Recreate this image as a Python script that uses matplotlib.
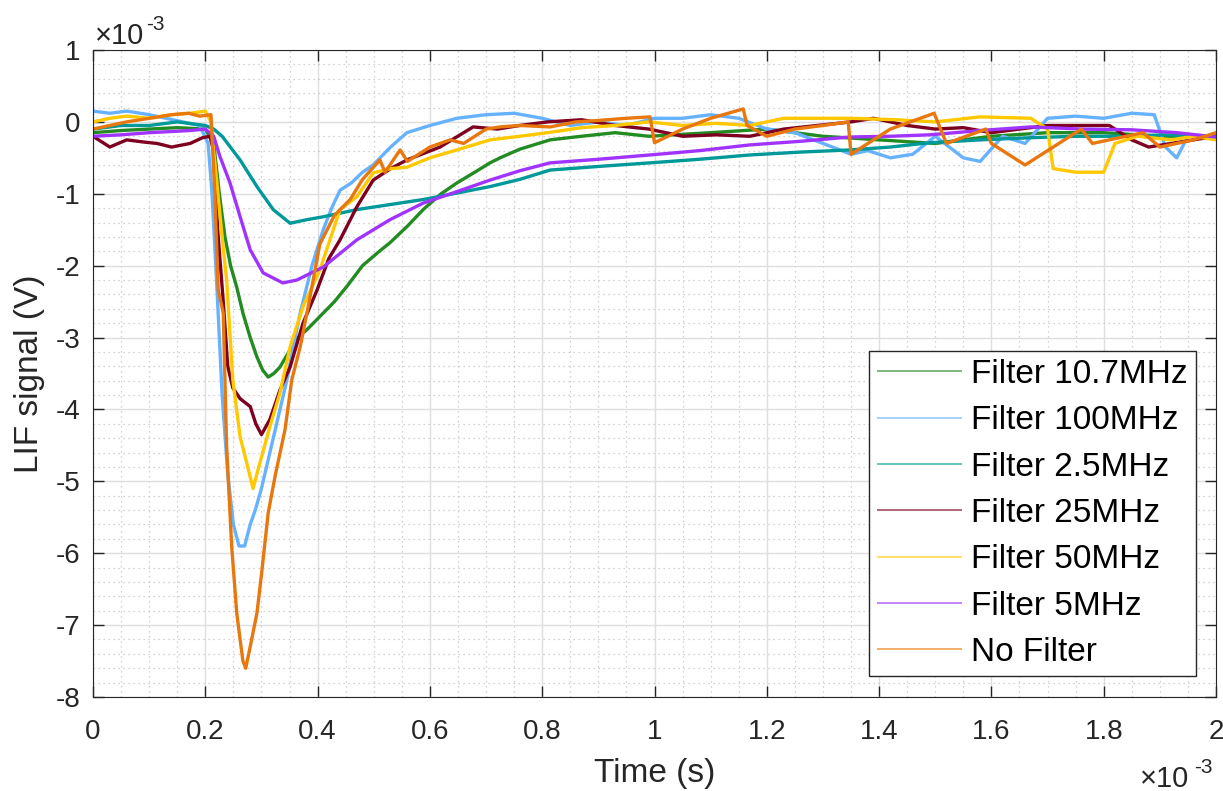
import matplotlib
matplotlib.use("Agg")
import matplotlib.pyplot as plt
from matplotlib.lines import Line2D
from matplotlib.ticker import MultipleLocator, FuncFormatter
import numpy as np

plt.rcParams["font.family"] = ["Liberation Sans", "DejaVu Sans"]

# traces: time in ms, signal in mV
t_107 = [0, 0.05, 0.1, 0.15, 0.2, 0.215, 0.225, 0.235, 0.245, 0.256, 0.267, 0.28, 0.292, 0.302,
         0.312, 0.322, 0.333, 0.351, 0.365, 0.381, 0.41, 0.43, 0.452, 0.48, 0.51, 0.529, 0.56,
         0.588, 0.62, 0.648, 0.68, 0.707, 0.725, 0.76, 0.814, 0.87, 0.93, 0.99, 1.1, 1.2, 1.3,
         1.4, 1.5, 1.6, 1.7, 1.8, 1.9, 2.0]
v_107 = [-0.15, -0.12, -0.1, -0.08, -0.1, -0.3, -1.0, -1.6, -2.0, -2.3, -2.66, -3.0, -3.27, -3.45,
         -3.55, -3.5, -3.41, -3.17, -3.0, -2.89, -2.66, -2.5, -2.29, -2.0, -1.8, -1.68, -1.45,
         -1.22, -1.0, -0.85, -0.7, -0.57, -0.5, -0.38, -0.25, -0.2, -0.15, -0.2, -0.15, -0.1, -0.2,
         -0.25, -0.3, -0.2, -0.15, -0.15, -0.2, -0.2]

t_100 = [0, 0.03, 0.06, 0.1, 0.13, 0.16, 0.19, 0.205, 0.212, 0.22, 0.23, 0.24, 0.25, 0.26, 0.27,
         0.28, 0.289, 0.3, 0.318, 0.33, 0.345, 0.36, 0.369, 0.39, 0.41, 0.425, 0.44, 0.46, 0.48,
         0.499, 0.53, 0.559, 0.6, 0.648, 0.7, 0.75, 0.8, 0.85, 0.9, 0.95, 1.0, 1.05, 1.1, 1.15,
         1.2, 1.25, 1.3, 1.35, 1.38, 1.42, 1.46, 1.5, 1.55, 1.58, 1.62, 1.66, 1.7, 1.75, 1.8,
         1.85, 1.89, 1.91, 1.93, 1.95, 2.0]
v_100 = [0.15, 0.12, 0.15, 0.1, 0.05, 0.0, -0.05, -0.3, -1.0, -2.2, -3.8, -4.9, -5.6, -5.9, -5.9,
         -5.6, -5.4, -5.1, -4.5, -4.1, -3.6, -3.0, -2.66, -2.0, -1.5, -1.2, -0.95, -0.85, -0.7,
         -0.6, -0.35, -0.15, -0.05, 0.05, 0.1, 0.12, 0.05, -0.05, 0.0, -0.05, 0.05, 0.05, 0.1,
         0.05, -0.1, -0.15, -0.3, -0.45, -0.4, -0.5, -0.45, -0.2, -0.5, -0.55, -0.2, -0.3, 0.05,
         0.08, 0.05, 0.12, 0.1, -0.35, -0.5, -0.2, -0.2]

t_25m = [0, 0.05, 0.1, 0.15, 0.2, 0.215, 0.23, 0.262, 0.292, 0.321, 0.351, 0.381, 0.41, 0.47,
         0.529, 0.588, 0.648, 0.707, 0.76, 0.814, 0.9, 0.992, 1.08, 1.17, 1.26, 1.348, 1.42,
         1.49, 1.58, 1.67, 1.75, 1.83, 1.91, 2.0]
v_25m = [-0.1, -0.05, -0.05, 0.0, -0.05, -0.1, -0.2, -0.53, -0.9, -1.22, -1.41, -1.36, -1.32,
         -1.22, -1.15, -1.08, -0.99, -0.9, -0.8, -0.67, -0.62, -0.57, -0.52, -0.46, -0.42, -0.39,
         -0.35, -0.29, -0.25, -0.22, -0.2, -0.2, -0.18, -0.2]

t_25 = [0, 0.03, 0.06, 0.09, 0.114, 0.14, 0.173, 0.195, 0.208, 0.215, 0.222, 0.232, 0.24, 0.249,
        0.262, 0.28, 0.29, 0.3, 0.315, 0.333, 0.351, 0.374, 0.399, 0.42, 0.44, 0.47, 0.499, 0.53,
        0.559, 0.618, 0.677, 0.72, 0.76, 0.81, 0.87, 0.93, 0.99, 1.05, 1.11, 1.17, 1.23, 1.29,
        1.35, 1.39, 1.45, 1.5, 1.55, 1.6, 1.65, 1.7, 1.75, 1.81, 1.85, 1.88, 1.92, 1.96, 2.0]
v_25 = [-0.2, -0.35, -0.25, -0.28, -0.3, -0.35, -0.3, -0.22, -0.2, -0.4, -1.5, -2.5, -3.4, -3.7,
        -3.85, -3.96, -4.2, -4.35, -4.14, -3.73, -3.41, -2.8, -2.34, -1.9, -1.64, -1.18, -0.81,
        -0.65, -0.53, -0.35, -0.07, -0.1, -0.05, 0.0, 0.03, -0.05, -0.1, -0.2, -0.18, -0.2, -0.1,
        -0.05, 0.0, 0.05, -0.05, -0.1, -0.08, -0.15, -0.1, -0.05, -0.05, -0.05, -0.25, -0.35,
        -0.3, -0.25, -0.2]

t_50 = [0, 0.03, 0.06, 0.1, 0.14, 0.173, 0.2, 0.21, 0.22, 0.23, 0.238, 0.249, 0.262, 0.274, 0.285,
        0.297, 0.315, 0.333, 0.351, 0.374, 0.404, 0.44, 0.47, 0.499, 0.53, 0.559, 0.6, 0.648,
        0.707, 0.76, 0.81, 0.87, 0.93, 0.99, 1.05, 1.11, 1.17, 1.23, 1.29, 1.35, 1.43, 1.5, 1.58,
        1.67, 1.70, 1.71, 1.75, 1.80, 1.82, 1.86, 1.92, 1.96, 2.0]
v_50 = [0.0, 0.05, 0.08, 0.05, 0.1, 0.12, 0.15, 0.0, -0.8, -1.6, -2.2, -3.59, -4.38, -4.75, -5.1,
        -4.75, -4.24, -3.77, -3.13, -2.57, -2.06, -1.22, -1.04, -0.71, -0.65, -0.63, -0.5, -0.39,
        -0.25, -0.2, -0.15, -0.08, -0.05, 0.0, -0.05, -0.02, -0.05, 0.05, 0.05, 0.05, 0.03, 0.0,
        0.07, 0.05, -0.1, -0.65, -0.7, -0.7, -0.3, -0.2, -0.25, -0.2, -0.25]

t_5 = [0, 0.05, 0.1, 0.173, 0.2, 0.215, 0.226, 0.244, 0.262, 0.28, 0.303, 0.338, 0.363, 0.41,
       0.47, 0.529, 0.588, 0.648, 0.707, 0.76, 0.814, 0.9, 0.992, 1.08, 1.17, 1.26, 1.348, 1.42,
       1.49, 1.58, 1.67, 1.76, 1.85, 1.93, 2.0]
v_5 = [-0.2, -0.18, -0.15, -0.12, -0.1, -0.2, -0.48, -0.85, -1.32, -1.78, -2.1, -2.24, -2.2,
       -2.02, -1.64, -1.36, -1.13, -0.97, -0.81, -0.68, -0.57, -0.52, -0.46, -0.4, -0.32, -0.27,
       -0.21, -0.2, -0.18, -0.12, -0.07, -0.1, -0.11, -0.15, -0.21]

t_nf = [0, 0.03, 0.06, 0.1, 0.14, 0.17, 0.19, 0.21, 0.217, 0.223, 0.232, 0.238, 0.247, 0.256,
        0.262, 0.267, 0.272, 0.28, 0.292, 0.3, 0.312, 0.325, 0.342, 0.354, 0.369, 0.385, 0.404,
        0.43, 0.458, 0.48, 0.511, 0.52, 0.547, 0.56, 0.6, 0.636, 0.66, 0.7, 0.725, 0.76, 0.814,
        0.86, 0.9, 0.95, 0.992, 1.0, 1.05, 1.1, 1.158, 1.165, 1.2, 1.25, 1.3, 1.345, 1.35, 1.42,
        1.498, 1.52, 1.59, 1.6, 1.66, 1.76, 1.78, 1.87, 1.9, 1.96, 2.0]
v_nf = [-0.1, -0.05, 0.0, 0.05, 0.1, 0.12, 0.08, 0.1, -1.0, -2.34, -2.66, -4.52, -5.91, -6.83,
        -7.2, -7.5, -7.6, -7.3, -6.83, -6.3, -5.44, -4.9, -4.28, -3.59, -3.13, -2.5, -1.7, -1.3,
        -1.08, -0.8, -0.53, -0.7, -0.39, -0.55, -0.35, -0.25, -0.3, -0.1, -0.07, -0.05, -0.07,
        0.0, 0.02, 0.05, 0.07, -0.29, -0.1, 0.05, 0.18, -0.05, -0.2, -0.1, -0.05, 0.0, -0.45,
        -0.1, 0.12, -0.3, -0.1, -0.3, -0.6, -0.1, -0.3, -0.15, -0.35, -0.25, -0.15]

labels = ["Filter 10.7MHz", "Filter 100MHz", "Filter 2.5MHz", "Filter 25MHz",
          "Filter 50MHz", "Filter 5MHz", "No Filter"]
series = [(t_107, v_107), (t_100, v_100), (t_25m, v_25m), (t_25, v_25),
          (t_50, v_50), (t_5, v_5), (t_nf, v_nf)]
colors = ["#228B22", "#66B2FF", "#009999", "#7E0020", "#FFC800", "#A033FF", "#E8770E"]
TX = "#262626"

fig = plt.figure(figsize=(12.23, 7.91), dpi=100)
ax = fig.add_axes([93 / 1223, 1 - 697 / 791, 1123 / 1223, 647 / 791])

for (t, v), c in zip(series, colors):
    ax.plot(np.array(t) * 1e-3, np.array(v) * 1e-3, color=c, lw=2.4)

ax.set_xlim(0, 2e-3)
ax.set_ylim(-8e-3, 1e-3)
ax.xaxis.set_major_locator(MultipleLocator(0.2e-3))
ax.xaxis.set_minor_locator(MultipleLocator(0.05e-3))
ax.yaxis.set_major_locator(MultipleLocator(1e-3))
ax.yaxis.set_minor_locator(MultipleLocator(0.2e-3))
milli = FuncFormatter(lambda val, pos: f"{round(val * 1e3, 6):g}")
ax.xaxis.set_major_formatter(milli)
ax.yaxis.set_major_formatter(milli)

ax.grid(which="major", color="#dedede", lw=1.0)
ax.grid(which="minor", color="#c4c4c4", lw=0.9, ls=(0, (1, 3)))
ax.set_axisbelow(True)
ax.tick_params(which="major", direction="in", length=8, width=1, top=True, right=True,
               labelsize=20, colors=TX)
ax.tick_params(axis="x", which="major", pad=16)
ax.tick_params(axis="y", which="major", pad=9)
ax.tick_params(which="minor", length=0)
for s in ax.spines.values():
    s.set_color(TX)

ax.set_xlabel("Time (s)", fontsize=24, color=TX, labelpad=9)
ax.set_ylabel("LIF signal (V)", fontsize=24, color=TX, labelpad=8)

# MATLAB-style exponent labels
fig.text(95 / 1223, 1 - 44 / 791, "\u00d710", fontsize=21, color=TX, va="baseline")
fig.text(146 / 1223, 1 - 30 / 791, "-3", fontsize=15, color=TX, va="baseline")
fig.text(1140 / 1223, 1 - 787 / 791, "\u00d710", fontsize=21, color=TX, va="baseline")
fig.text(1194 / 1223, 1 - 773 / 791, "-3", fontsize=15, color=TX, va="baseline")

handles = [Line2D([], [], color=c, lw=1.4, alpha=0.6) for c in colors]
leg = ax.legend(handles, labels, loc="lower right", bbox_to_anchor=(0.982, 0.032),
                borderaxespad=0, fontsize=24, handlelength=2.5, handletextpad=0.3,
                labelspacing=0.46, borderpad=0.25, frameon=True, fancybox=False, framealpha=1)
leg.get_frame().set_edgecolor(TX)
leg.get_frame().set_linewidth(1)

fig.savefig("out.png", dpi=100, facecolor="white")
